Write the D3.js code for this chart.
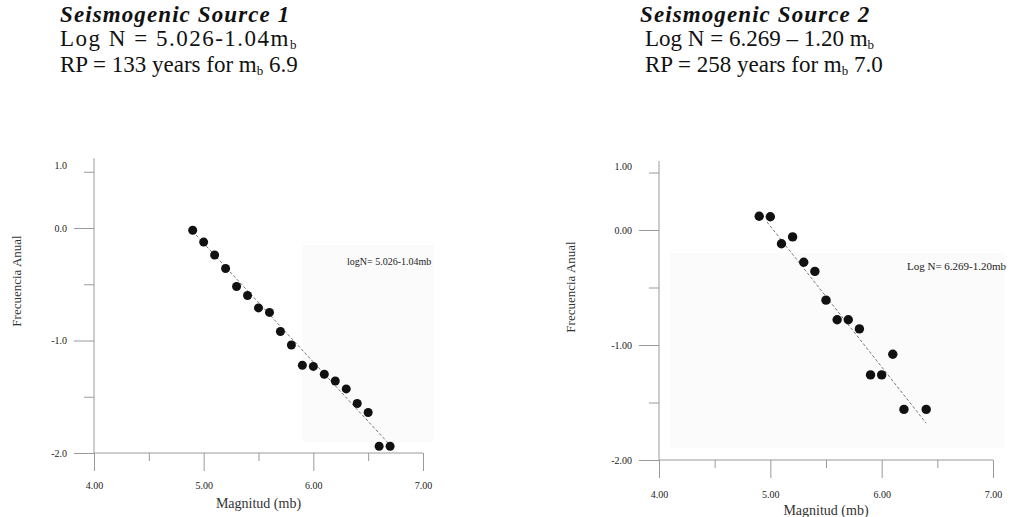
<!DOCTYPE html>
<html>
<head>
<meta charset="utf-8">
<script src="https://cdn.jsdelivr.net/npm/d3@7"></script>
<style>
  body { margin: 0; background: #fff; }
  svg { display: block; }
  text { font-family: "Liberation Serif", "DejaVu Serif", serif; }
</style>
</head>
<body>
<div id="vis-container"></div>
<script>
// ---------------- data ----------------
const mag1 = [4.9, 5.0, 5.1, 5.2, 5.3, 5.4, 5.5, 5.6, 5.7, 5.8, 5.9, 6.0, 6.1, 6.2, 6.3, 6.4, 6.5, 6.6, 6.7]
const logN1 = [-0.02, -0.125, -0.24, -0.36, -0.52, -0.60, -0.71, -0.75, -0.92, -1.04, -1.22, -1.23, -1.30, -1.36, -1.43, -1.56, -1.64, -1.94, -1.94]
const fitMag1 = [4.9, 6.7]
const fitLogN1 = [-0.03, -1.93]

const mag2 = [4.9, 5.0, 5.1, 5.2, 5.3, 5.4, 5.5, 5.6, 5.7, 5.8, 5.9, 6.0, 6.1, 6.2, 6.4]
const logN2 = [0.12, 0.115, -0.12, -0.06, -0.28, -0.36, -0.61, -0.78, -0.78, -0.86, -1.26, -1.26, -1.08, -1.56, -1.56]
const fitMag2 = [4.97, 6.4]
const fitLogN2 = [0.07, -1.68]

const xTicks = [4, 5, 6, 7]
const xMinor = [4.5, 5.5, 6.5]
const yTicks = [0, -1, -2]
const yMinor = [0.5, -0.5, -1.5]
const xLabels1 = ["4.00", "5.00", "6.00", "7.00"]
const yLabels1 = ["0.0", "-1.0", "-2.0"]
const yTop1 = "1.0"
const xLabels2 = ["4.00", "5.00", "6.00", "7.00"]
const yLabels2 = ["0.00", "-1.00", "-2.00"]
const yTop2 = "1.00"

// ---------------- svg ----------------
const svgWidth = 1029
const svgHeight = 517

const svg = d3.select('#vis-container')
    .append('svg')
    .attr('width', svgWidth)
    .attr('height', svgHeight)

// ---------------- panel ----------------
function drawPanel(p) {
    const x = d3.scaleLinear().domain([4, 7]).range(p.xRange)
    const y = d3.scaleLinear().domain([0, -2]).range(p.yRange)
    const g = svg.append('g')

    // faint scanned background patch
    g.append('rect')
        .attr('x', x(p.bg[0])).attr('y', y(p.bg[1]))
        .attr('width', x(p.bg[2]) - x(p.bg[0]))
        .attr('height', y(p.bg[3]) - y(p.bg[1]))
        .attr('fill', '#fbfbfb')

    const axisColor = '#9a9a9a'
    const y0 = y(-2)

    // major x ticks (long, reaching below the axis)
    g.append('g')
        .attr('transform', `translate(0,${y0})`)
        .call(d3.axisBottom(x).tickValues(xTicks).tickSize(18).tickSizeOuter(0)
            .tickPadding(p.xPad).tickFormat((d, i) => p.xLabels[i]))
    g.append('g')
        .attr('transform', `translate(0,${y0})`)
        .call(d3.axisBottom(x).tickValues(xMinor).tickSize(8).tickSizeOuter(0).tickFormat(''))

    // y axis
    g.append('g')
        .attr('transform', `translate(${x(4)},0)`)
        .call(d3.axisLeft(y).tickValues(yTicks).tickSize(20).tickSizeOuter(0)
            .tickPadding(7).tickFormat((d, i) => p.yLabels[i]))
    g.append('g')
        .attr('transform', `translate(${x(4)},0)`)
        .call(d3.axisLeft(y).tickValues(yMinor).tickSize(10).tickSizeOuter(0).tickFormat(''))

    g.selectAll('.domain').remove()
    g.selectAll('.tick line').attr('stroke', axisColor)
    g.selectAll('.tick text')
        .attr('font-size', 10)
        .attr('font-family', '"Liberation Serif", serif')
        .attr('fill', '#222')

    // axis lines
    g.append('line')
        .attr('x1', x(4)).attr('x2', x(4))
        .attr('y1', y(p.yTopVal)).attr('y2', y0)
        .attr('stroke', axisColor)
    g.append('line')
        .attr('x1', x(4)).attr('x2', x(7))
        .attr('y1', y0).attr('y2', y0)
        .attr('stroke', axisColor)

    // stray top label
    g.append('text')
        .attr('x', x(4) - 27).attr('y', y(0.55))
        .attr('dy', '0.32em')
        .attr('text-anchor', 'end')
        .attr('font-size', 10)
        .attr('fill', '#222')
        .text(p.yTop)

    // axis titles
    g.append('text')
        .attr('x', (x(4) + x(7)) / 2).attr('y', p.xTitleY)
        .attr('text-anchor', 'middle')
        .attr('font-size', 14)
        .attr('fill', '#333')
        .text('Magnitud (mb)')
    g.append('text')
        .attr('transform', `translate(${p.yTitleX},${p.yTitleY}) rotate(-90)`)
        .attr('text-anchor', 'middle')
        .attr('font-size', 13)
        .attr('fill', '#333')
        .text('Frecuencia Anual')

    // fit line
    const fit = p.fitMag.map((m, i) => [m, p.fitLogN[i]])
    g.append('path')
        .datum(fit)
        .attr('d', d3.line().x(d => x(d[0])).y(d => y(d[1])))
        .attr('stroke', '#555')
        .attr('stroke-width', 0.8)
        .attr('stroke-dasharray', '3,2')
        .attr('fill', 'none')

    // points
    const pts = p.mag.map((m, i) => ({ m: m, v: p.logN[i] }))
    g.selectAll('.dot')
        .data(pts)
        .join('circle')
        .attr('class', 'dot')
        .attr('cx', d => x(d.m))
        .attr('cy', d => y(d.v))
        .attr('r', p.r)
        .attr('fill', '#111')

    // in-plot annotation
    g.append('text')
        .attr('x', p.ann[0]).attr('y', p.ann[1])
        .attr('font-size', p.annSize)
        .attr('fill', '#222')
        .text(p.annText)

    // header block
    const fs = 23
    const h = svg.append('g')
    h.append('text')
        .attr('x', p.head[0]).attr('y', p.head[1])
        .attr('font-size', fs).attr('font-weight', 'bold').attr('font-style', 'italic')
        .attr('letter-spacing', 1.1)
        .attr('fill', '#111')
        .text(p.title)
    const l2 = h.append('text')
        .attr('x', p.head[2]).attr('y', p.head[1] + 24)
        .attr('font-size', fs).attr('fill', '#111')
        .attr('letter-spacing', p.eqSpacing)
    l2.append('tspan').text(p.eq)
    l2.append('tspan').attr('font-size', 13).attr('dy', 3).text('b')
    const l3 = h.append('text')
        .attr('x', p.head[2]).attr('y', p.head[1] + 50)
        .attr('font-size', fs).attr('fill', '#111')
    l3.append('tspan').text(p.rp)
    l3.append('tspan').attr('font-size', 13).attr('dy', 3).text('b')
    l3.append('tspan').attr('dy', -3).text(' ' + p.rpMag)
}

drawPanel({
    xRange: [94, 423], yRange: [228, 453], yTopVal: 0.62,
    mag: mag1, logN: logN1, fitMag: fitMag1, fitLogN: fitLogN1, r: 4.5,
    xLabels: xLabels1, yLabels: yLabels1, yTop: yTop1, xPad: 11,
    xTitleY: 508, yTitleX: 21, yTitleY: 281,
    bg: [5.9, -0.15, 7.1, -1.9],
    ann: [347, 265], annText: 'logN= 5.026-1.04mb', annSize: 10,
    head: [60, 22, 60], title: 'Seismogenic Source 1', eqSpacing: 1.5,
    eq: 'Log N = 5.026-1.04m', rp: 'RP = 133 years for m', rpMag: '6.9'
})

drawPanel({
    xRange: [659, 993], yRange: [230, 460], yTopVal: 0.6,
    mag: mag2, logN: logN2, fitMag: fitMag2, fitLogN: fitLogN2, r: 4.7,
    xLabels: xLabels2, yLabels: yLabels2, yTop: yTop2, xPad: 13,
    xTitleY: 515, yTitleX: 575, yTitleY: 287,
    bg: [4.1, -0.2, 7.1, -1.9],
    ann: [907, 270], annText: 'Log N= 6.269-1.20mb', annSize: 11,
    head: [640, 22, 645], title: 'Seismogenic Source 2', eqSpacing: 0,
    eq: 'Log N = 6.269 \u2013 1.20 m', rp: 'RP = 258 years for m', rpMag: '7.0'
})
</script>
</body>
</html>
